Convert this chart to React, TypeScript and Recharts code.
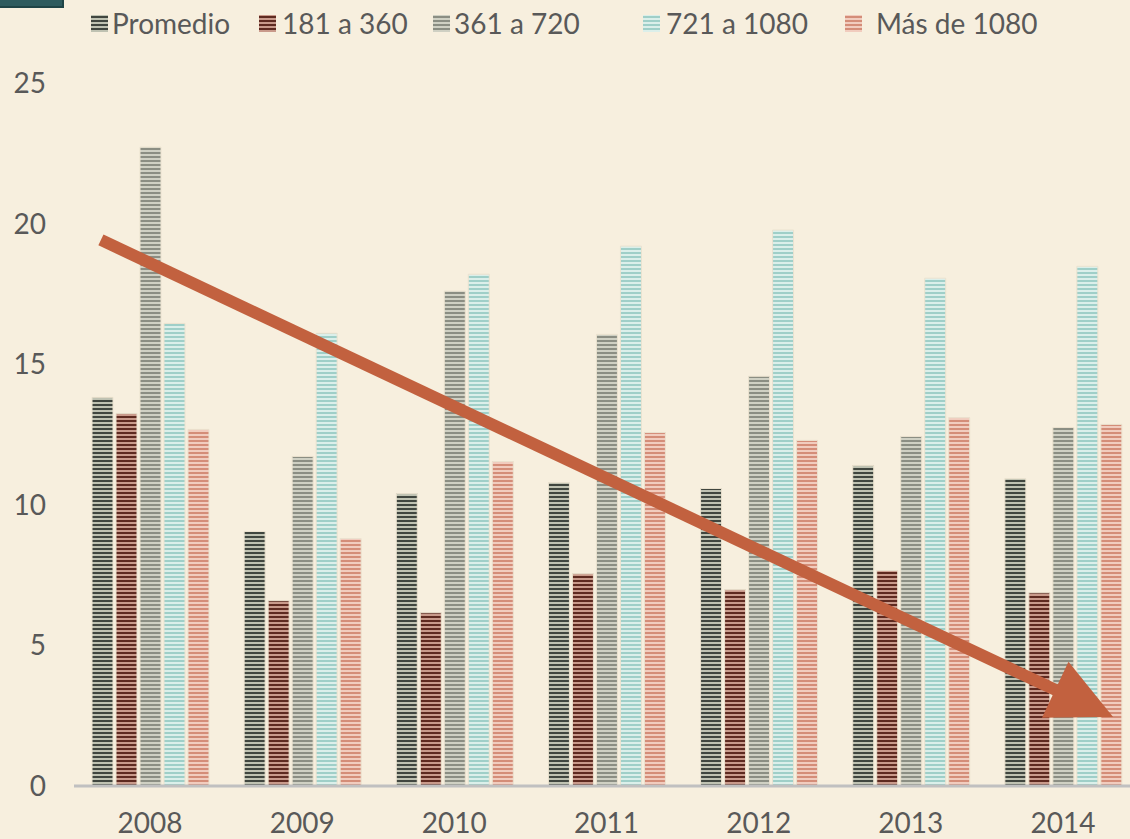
import { BarChart, Bar, XAxis, YAxis, ReferenceLine } from 'recharts';

const years = ['2008', '2009', '2010', '2011', '2012', '2013', '2014'];
const promedio = [13.82, 9.05, 10.4, 10.79, 10.58, 11.4, 10.93];
const r181a360 = [13.25, 6.59, 6.16, 7.55, 6.98, 7.66, 6.87];
const r361a720 = [22.72, 11.72, 17.6, 16.06, 14.57, 12.43, 12.75];
const r721a1080 = [16.45, 16.1, 18.2, 19.2, 19.77, 18.06, 18.48];
const masDe1080 = [12.68, 8.8, 11.54, 12.57, 12.29, 13.1, 12.86];
const yTicks = [0, 5, 10, 15, 20, 25];

// trend arrow, in (band position, value) units
const trendStart = { x: 0.177, y: 19.42 };
const trendEnd = { x: 6.83, y: 2.45 };

const series = [
  { key: 'promedio', name: 'Promedio', dark: '#40463f', light: '#bfc2b2' },
  { key: 'r181', name: '181 a 360', dark: '#5e2a20', light: '#c99a8b' },
  { key: 'r361', name: '361 a 720', dark: '#8b8e83', light: '#cfd0c3' },
  { key: 'r721', name: '721 a 1080', dark: '#9fcfc8', light: '#dbefea' },
  { key: 'mas', name: 'Más de 1080', dark: '#d48d78', light: '#f1ccbe' },
];

const data = years.map((year, i) => ({
  year,
  pos: i + 0.5,
  promedio: promedio[i],
  r181: r181a360[i],
  r361: r361a720[i],
  r721: r721a1080[i],
  mas: masDe1080[i],
}));

const FONT = 'Lato, "Open Sans", sans-serif';
const TEXT = '#595959';
const legendLeft = [91, 259, 433, 643, 845];
const legendTextGap = [4, 6, 4, 6, 14];

function Arrow(props: any) {
  const { x1, y1, x2, y2 } = props;
  const dx = x2 - x1;
  const dy = y2 - y1;
  const len = Math.sqrt(dx * dx + dy * dy);
  const ux = dx / len;
  const uy = dy / len;
  const headLen = 64;
  const half = 31;
  const bx = x2 - ux * headLen;
  const by = y2 - uy * headLen;
  const pts = [
    [x2, y2],
    [bx - uy * half, by + ux * half],
    [bx + uy * half, by - ux * half],
  ]
    .map((p) => p.join(','))
    .join(' ');
  return (
    <g>
      <line x1={x1} y1={y1} x2={bx + ux * 2} y2={by + uy * 2} stroke="#c2613f" strokeWidth={12} />
      <polygon points={pts} fill="#c2613f" />
    </g>
  );
}

function StripeIcon({ dark, light }: { dark: string; light: string }) {
  const rows = [0, 1, 2, 3];
  return (
    <svg width={17} height={17} style={{ display: 'block' }}>
      <rect width={17} height={17} fill={light} />
      {rows.map((r) => (
        <rect key={r} x={0} y={1 + r * 4} width={17} height={2} fill={dark} />
      ))}
    </svg>
  );
}

function LegendRow() {
  return (
    <div style={{ position: 'absolute', left: 0, top: 0, width: 1130, height: 46 }}>
      {series.map((s, i) => (
        <div
          key={s.key}
          style={{
            position: 'absolute',
            left: legendLeft[i],
            top: 4,
            display: 'flex',
            alignItems: 'center',
            height: 38,
            fontFamily: FONT,
            fontSize: 28,
            color: TEXT,
            whiteSpace: 'nowrap',
          }}
        >
          <StripeIcon dark={s.dark} light={s.light} />
          <span style={{ marginLeft: legendTextGap[i] }}>{s.name}</span>
        </div>
      ))}
    </div>
  );
}

export default function App() {
  return (
    <div
      style={{
        position: 'absolute',
        left: 0,
        top: 0,
        width: 1130,
        height: 839,
        overflow: 'hidden',
        background: '#f7efde',
      }}
    >
      <div
        style={{
          position: 'absolute',
          left: 0,
          top: 0,
          width: 62,
          height: 6,
          background: '#2e5b5e',
          borderRight: '2px solid #1f4446',
          borderBottom: '2px solid #1f4446',
        }}
      />
      <LegendRow />
      <BarChart
        width={1145}
        height={839}
        data={data}
        margin={{ top: 83, right: 6, bottom: 0, left: 0 }}
        barSize={21}
        barGap={3}
        style={{ position: 'absolute', left: 0, top: 0 }}
      >
        <defs>
          {series.map((s) => (
            <pattern
              key={s.key}
              id={`stripe-${s.key}`}
              patternUnits="userSpaceOnUse"
              width={4}
              height={4}
            >
              <rect width={4} height={4} fill={s.light} />
              <rect width={4} height={2} fill={s.dark} />
            </pattern>
          ))}
        </defs>
        <XAxis
          dataKey="year"
          height={53}
          tickLine={false}
          tickSize={0}
          tickMargin={27}
          axisLine={{ stroke: '#c0c0c0', strokeWidth: 3 }}
          tick={{ fill: TEXT, fontSize: 28, fontFamily: FONT }}
          interval={0}
        />
        <XAxis
          xAxisId="arrow"
          dataKey="pos"
          type="number"
          domain={[0, 7]}
          allowDataOverflow
          hide
        />
        <YAxis
          domain={[0, 25]}
          ticks={yTicks}
          width={74}
          axisLine={false}
          tickLine={false}
          tickSize={0}
          tickMargin={28}
          tick={{ fill: TEXT, fontSize: 28, fontFamily: FONT }}
        />
        {series.map((s) => (
          <Bar
            key={s.key}
            dataKey={s.key}
            name={s.name}
            fill={`url(#stripe-${s.key})`}
            stroke="#ebe2cf"
            strokeWidth={1}
            isAnimationActive={false}
          />
        ))}
        <ReferenceLine
          xAxisId="arrow"
          segment={[trendStart, trendEnd]}
          shape={Arrow}
          ifOverflow="visible"
        />
      </BarChart>
    </div>
  );
}
